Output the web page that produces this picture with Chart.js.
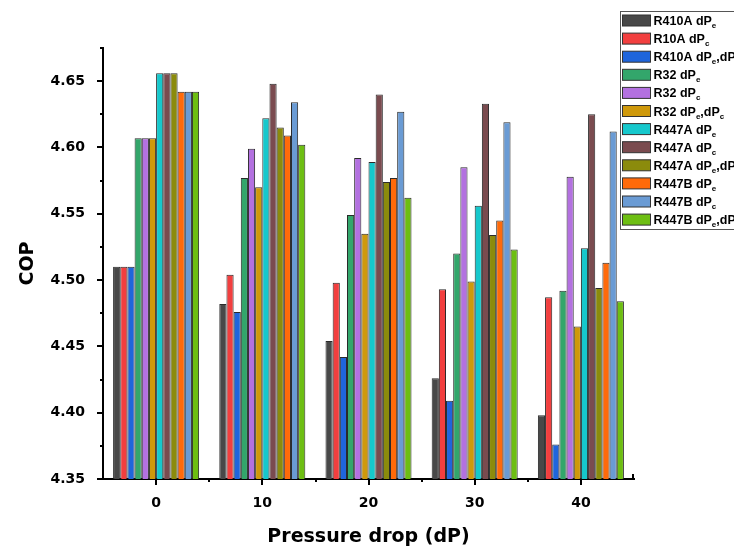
<!DOCTYPE html>
<html>
<head>
<meta charset="utf-8">
<title>COP vs pressure drop</title>
<script src="https://cdn.jsdelivr.net/npm/chart.js@4.4.1/dist/chart.umd.min.js"></script>
<style>
  html, body { margin: 0; padding: 0; background: #fff; }
  #wrap { width: 734px; height: 549px; }
</style>
</head>
<body>
<div id="wrap"><canvas id="chart-cop" width="734" height="549"></canvas></div>
<script>
'use strict';

/* ── Data ────────────────────────────────────────────────────── */
const pressureDrops = ['0', '10', '20', '30', '40'];

const r410aDPe     = [4.510, 4.482, 4.454, 4.426, 4.398];
const r410aDPc     = [4.510, 4.504, 4.498, 4.493, 4.487];
const r410aDPeDPc  = [4.510, 4.476, 4.442, 4.409, 4.376];
const r32DPe       = [4.607, 4.577, 4.549, 4.520, 4.492];
const r32DPc       = [4.607, 4.599, 4.592, 4.585, 4.578];
const r32DPeDPc    = [4.607, 4.570, 4.535, 4.499, 4.465];
const r447aDPe     = [4.656, 4.622, 4.589, 4.556, 4.524];
const r447aDPc     = [4.656, 4.648, 4.640, 4.633, 4.625];
const r447aDPeDPc  = [4.656, 4.615, 4.574, 4.534, 4.494];
const r447bDPe     = [4.642, 4.609, 4.577, 4.545, 4.513];
const r447bDPc     = [4.642, 4.634, 4.627, 4.619, 4.612];
const r447bDPeDPc  = [4.642, 4.602, 4.562, 4.523, 4.484];

// '_' marks the next character as a subscript
const seriesNames = [
    'R410A dP_e', 'R10A dP_c', 'R410A dP_e,dP_c',
    'R32 dP_e', 'R32 dP_c', 'R32 dP_e,dP_c',
    'R447A dP_e', 'R447A dP_c', 'R447A dP_e,dP_c',
    'R447B dP_e', 'R447B dP_c', 'R447B dP_e,dP_c',
];
const seriesValues = [
    r410aDPe, r410aDPc, r410aDPeDPc,
    r32DPe, r32DPc, r32DPeDPc,
    r447aDPe, r447aDPc, r447aDPeDPc,
    r447bDPe, r447bDPc, r447bDPeDPc,
];
const seriesColors = [
    '#484848', '#f23f3f', '#1f65dc',
    '#33a66b', '#b371e0', '#cf990b',
    '#16c8cc', '#7a4b4f', '#8b8b0c',
    '#ff6a0a', '#6a9bd4', '#6dbe12',
];

const yMin = 4.35;
const yMax = 4.675;
const yStep = 0.05;

const TICK_FONT = { family: 'DejaVu Sans', size: 14, weight: 'bold' };
const TITLE_FONT = { family: 'DejaVu Sans', size: 19, weight: 'bold' };

/* ── Axis tick marks (major + minor) ─────────────────────────── */
const axisTicks = {
    id: 'axisTicks',
    afterDraw(chart) {
        const { ctx, chartArea: a, scales: { x, y } } = chart;
        ctx.save();
        ctx.strokeStyle = '#000';
        ctx.lineWidth = 2;
        ctx.beginPath();

        // y: major every step, minor at half steps
        const nHalf = Math.round((yMax - yMin) / (yStep / 2));
        for (let i = 0; i <= nHalf; i++) {
            const py = Math.round(y.getPixelForValue(yMin + i * yStep / 2));
            const len = i % 2 === 0 ? 6 : 3;
            ctx.moveTo(a.left, py);
            ctx.lineTo(a.left - len, py);
        }

        // x: major at category centres, minor at category boundaries
        const n = pressureDrops.length;
        const half = (a.right - a.left) / (2 * n);
        for (let i = 0; i < n; i++) {
            const px = Math.round(x.getPixelForValue(i));
            ctx.moveTo(px, a.bottom);
            ctx.lineTo(px, a.bottom + 6);
            if (i > 0) {
                const bx = Math.round(px - half);
                ctx.moveTo(bx, a.bottom);
                ctx.lineTo(bx, a.bottom + 3);
            }
        }
        const ex = Math.round(a.right) - 1;
        ctx.moveTo(ex, a.bottom);
        ctx.lineTo(ex, a.bottom - 5);
        ctx.stroke();
        ctx.restore();
    }
};

/* ── Legend with subscripts ──────────────────────────────────── */
function drawRichText(ctx, text, x, y) {
    let cx = x;
    for (let i = 0; i < text.length; i++) {
        let ch = text[i];
        let sub = false;
        if (ch === '_') { ch = text[++i]; sub = true; }
        ctx.font = sub ? 'bold 8px "Liberation Sans"' : 'bold 12.5px "Liberation Sans"';
        ctx.fillText(ch, cx, sub ? y + 3 : y);
        cx += ctx.measureText(ch).width;
    }
}

const subLegend = {
    id: 'subLegend',
    afterDraw(chart) {
        const { ctx } = chart;
        const left = 620.5, top = 11.5, rowH = 18.1, boxW = 140, boxH = 218;
        ctx.save();
        ctx.fillStyle = '#fff';
        ctx.fillRect(left, top, boxW, boxH);
        ctx.strokeStyle = '#555';
        ctx.lineWidth = 1;
        ctx.strokeRect(left, top, boxW, boxH);
        ctx.textBaseline = 'alphabetic';
        chart.data.datasets.forEach((ds, i) => {
            const cy = top + 9 + i * rowH;
            ctx.fillStyle = ds.backgroundColor;
            ctx.fillRect(left + 2, cy - 5.5, 28, 11);
            ctx.strokeStyle = '#333';
            ctx.strokeRect(left + 2, cy - 5.5, 28, 11);
            ctx.fillStyle = '#000';
            drawRichText(ctx, seriesNames[i], left + 33, cy + 4.5);
        });
        ctx.restore();
    }
};

/* ── Chart ───────────────────────────────────────────────────── */
const datasets = seriesValues.map((vals, i) => ({
    label: seriesNames[i].replace(/_/g, ''),
    data: vals,
    backgroundColor: seriesColors[i],
    borderColor: '#2a2a2a',
    borderWidth: 1,
    categoryPercentage: 0.81,
    barPercentage: 1.0,
}));

new Chart(document.getElementById('chart-cop'), {
    type: 'bar',
    data: { labels: pressureDrops, datasets },
    plugins: [axisTicks, subLegend],
    options: {
        responsive: false,
        animation: false,
        layout: { padding: { top: 48, right: 100, left: 0, bottom: 0 } },
        scales: {
            x: {
                offset: true,
                grid: { display: false },
                border: { display: true, color: '#000', width: 2 },
                ticks: { color: '#000', font: TICK_FONT, padding: 8, maxRotation: 0 },
                title: { display: true, text: 'Pressure drop (dP)', color: '#000', font: TITLE_FONT, padding: { top: 0, bottom: 1 } },
                afterFit: s => { s.height = 70; },
            },
            y: {
                min: yMin,
                max: yMax,
                grid: { display: false },
                border: { display: true, color: '#000', width: 2 },
                ticks: { stepSize: yStep, color: '#000', font: TICK_FONT, padding: 10, callback: v => v.toFixed(2) },
                afterBuildTicks: s => {
                    s.ticks = s.ticks.filter(t => Math.abs(t.value / yStep - Math.round(t.value / yStep)) < 1e-6);
                },
                title: { display: true, text: 'COP', color: '#000', font: TITLE_FONT, padding: { top: 17, bottom: 0 } },
                afterFit: s => { s.width = 103; },
            }
        },
        plugins: {
            legend: { display: false },
            tooltip: { enabled: false }
        }
    }
});
</script>
</body>
</html>
